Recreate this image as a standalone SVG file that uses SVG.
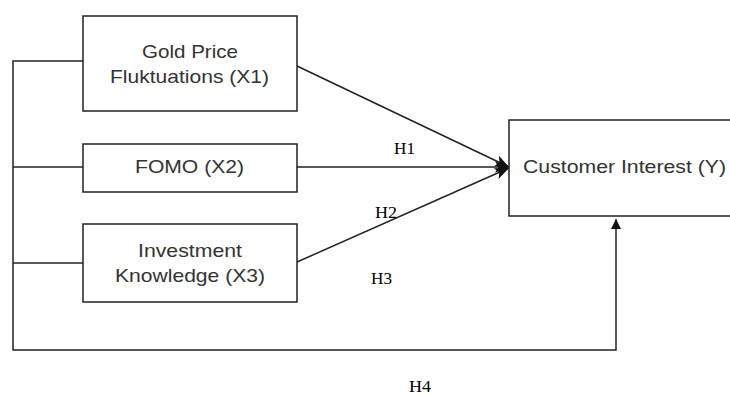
<svg xmlns="http://www.w3.org/2000/svg" width="730" height="396" viewBox="0 0 730 396">
<defs>
<style>
.box{fill:#fff;stroke:#222;stroke-width:1.5}
.lbl{font-family:"Liberation Sans",Arial,sans-serif;font-size:18.5px;fill:#333;text-anchor:start}
.h{font-family:"Liberation Serif","Times New Roman",serif;font-size:16px;fill:#000}
.ln{fill:none;stroke:#222;stroke-width:1.5}
</style>
<marker id="ah" viewBox="0 0 12 10" refX="12" refY="5" markerWidth="14" markerHeight="12" markerUnits="userSpaceOnUse" orient="auto">
<path d="M0,0 L12,5 L0,10 L3,5 Z" fill="#111"/>
</marker>
<marker id="ah2" viewBox="0 0 10 10" refX="10" refY="5" markerWidth="11" markerHeight="10" markerUnits="userSpaceOnUse" orient="auto">
<path d="M0,0 L10,5 L0,10 Z" fill="#111"/>
</marker>
</defs>
<rect width="730" height="396" fill="#fff"/>
<g id="connectors">
<path class="ln" d="M83,61 H13 V350 H616 V219" marker-end="url(#ah2)"/>
<path class="ln" d="M13,167 H83"/>
<path class="ln" d="M13,263 H83"/>
<path class="ln" d="M297,66 L509,167" marker-end="url(#ah)"/>
<path class="ln" d="M297,167 L509,167" marker-end="url(#ah)"/>
<path class="ln" d="M297,262 L509,168" marker-end="url(#ah)"/>
</g>
<g id="x1">
<rect class="box" x="83" y="16" width="214" height="95"/>
<text class="lbl" x="142" y="58" textLength="96" lengthAdjust="spacingAndGlyphs">Gold Price</text>
<text class="lbl" x="110" y="83" textLength="159" lengthAdjust="spacingAndGlyphs">Fluktuations (X1)</text>
</g>
<g id="x2">
<rect class="box" x="83" y="144" width="214" height="48"/>
<text class="lbl" x="135" y="173" textLength="109" lengthAdjust="spacingAndGlyphs">FOMO (X2)</text>
</g>
<g id="x3">
<rect class="box" x="83" y="224" width="214" height="78"/>
<text class="lbl" x="138" y="257" textLength="104" lengthAdjust="spacingAndGlyphs">Investment</text>
<text class="lbl" x="115" y="282" textLength="150" lengthAdjust="spacingAndGlyphs">Knowledge (X3)</text>
</g>
<g id="y">
<rect class="box" x="509" y="120" width="230" height="96"/>
<text class="lbl" x="523" y="173" textLength="203" lengthAdjust="spacingAndGlyphs">Customer Interest (Y)</text>
</g>
<g id="labels">
<text class="h" x="394" y="154" textLength="21" lengthAdjust="spacingAndGlyphs">H1</text>
<text class="h" x="375" y="218" textLength="22" lengthAdjust="spacingAndGlyphs">H2</text>
<text class="h" x="371" y="284" textLength="21" lengthAdjust="spacingAndGlyphs">H3</text>
<text class="h" x="409" y="392" textLength="22" lengthAdjust="spacingAndGlyphs">H4</text>
</g>
</svg>
